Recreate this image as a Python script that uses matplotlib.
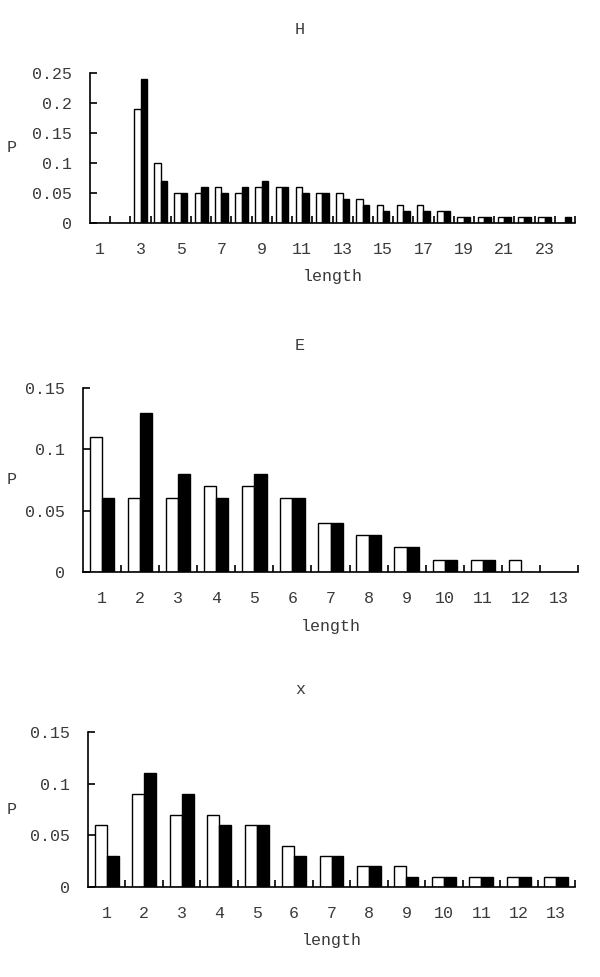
import matplotlib
matplotlib.use("Agg")
import matplotlib.pyplot as plt
import numpy as np
from matplotlib.transforms import blended_transform_factory

plt.rcParams['font.family'] = ['Liberation Mono', 'DejaVu Sans Mono']
plt.rcParams['font.size'] = 12
TXT = '#3a3a3a'

# --- data ---
h_lengths = list(range(1, 25))
h_white = [0, 0, 0.19, 0.10, 0.05, 0.05, 0.06, 0.05, 0.06, 0.06, 0.06, 0.05,
           0.05, 0.04, 0.03, 0.03, 0.03, 0.02, 0.01, 0.01, 0.01, 0.01, 0.01, 0]
h_black = [0, 0, 0.24, 0.07, 0.05, 0.06, 0.05, 0.06, 0.07, 0.06, 0.05, 0.05,
           0.04, 0.03, 0.02, 0.02, 0.02, 0.02, 0.01, 0.01, 0.01, 0.01, 0.01, 0.01]
h_xticks = list(range(1, 24, 2))
h_yticks = [0, 0.05, 0.1, 0.15, 0.2, 0.25]

e_lengths = list(range(1, 14))
e_white = [0.11, 0.06, 0.06, 0.07, 0.07, 0.06, 0.04, 0.03, 0.02, 0.01, 0.01, 0.01, 0]
e_black = [0.06, 0.13, 0.08, 0.06, 0.08, 0.06, 0.04, 0.03, 0.02, 0.01, 0.01, 0, 0]
e_xticks = list(range(1, 14))
e_yticks = [0, 0.05, 0.1, 0.15]

x_lengths = list(range(1, 14))
x_white = [0.06, 0.09, 0.07, 0.07, 0.06, 0.04, 0.03, 0.02, 0.02, 0.01, 0.01, 0.01, 0.01]
x_black = [0.03, 0.11, 0.09, 0.06, 0.06, 0.03, 0.03, 0.02, 0.01, 0.01, 0.01, 0.01, 0.01]
x_xticks = list(range(1, 14))
x_yticks = [0, 0.05, 0.1, 0.15]

fig = plt.figure(figsize=(6, 9.77), dpi=100)
W, H = 600, 977


def panel(rect_px, title, title_y, lengths, white, black, xticks, yticks):
    l, t, r, b = rect_px
    ax = fig.add_axes([l / W, 1 - b / H, (r - l) / W, (b - t) / H])
    x = np.array(lengths)
    w = 0.32
    ax.bar(x - w / 2, white, w, color='white', edgecolor='black', linewidth=1.0)
    ax.bar(x + w / 2, black, w, color='black', edgecolor='black', linewidth=1.0)
    ax.set_xlim(0.5, len(lengths) + 0.5)
    ax.set_ylim(0, yticks[-1])
    for s in ('top', 'right'):
        ax.spines[s].set_visible(False)
    for s in ('left', 'bottom'):
        ax.spines[s].set_linewidth(1.2)
    ax.set_xticks(xticks)
    ax.set_xticklabels([str(v) for v in xticks], color=TXT)
    ax.set_xticks(np.arange(1.5, len(lengths) + 1.0, 1.0), minor=True)
    ax.set_yticks(yticks)
    ax.set_yticklabels(['%g' % v for v in yticks], color=TXT)
    ax.tick_params(axis='x', which='major', length=0, pad=14)
    ax.tick_params(axis='x', which='minor', direction='in', length=5, width=1.2)
    ax.tick_params(axis='y', direction='in', length=5, width=1.2, pad=13)
    fig.text(0.5, 1 - title_y / H, title, ha='center', va='center', color=TXT)
    ax.annotate('length', xy=(0.5, 0), xycoords='axes fraction', xytext=(0, -54),
                textcoords='offset pixels', ha='center', va='center', color=TXT)
    tr = blended_transform_factory(fig.transFigure, ax.transAxes)
    ax.text(12 / W, 0.5, 'P', transform=tr, ha='center', va='center', color=TXT)
    return ax


panel((90, 73, 575, 223), 'H', 30, h_lengths, h_white, h_black, h_xticks, h_yticks)
panel((83, 388, 578, 572), 'E', 345, e_lengths, e_white, e_black, e_xticks, e_yticks)
panel((88, 732, 575, 887), 'x', 689, x_lengths, x_white, x_black, x_xticks, x_yticks)

fig.savefig('out.png', dpi=100)
